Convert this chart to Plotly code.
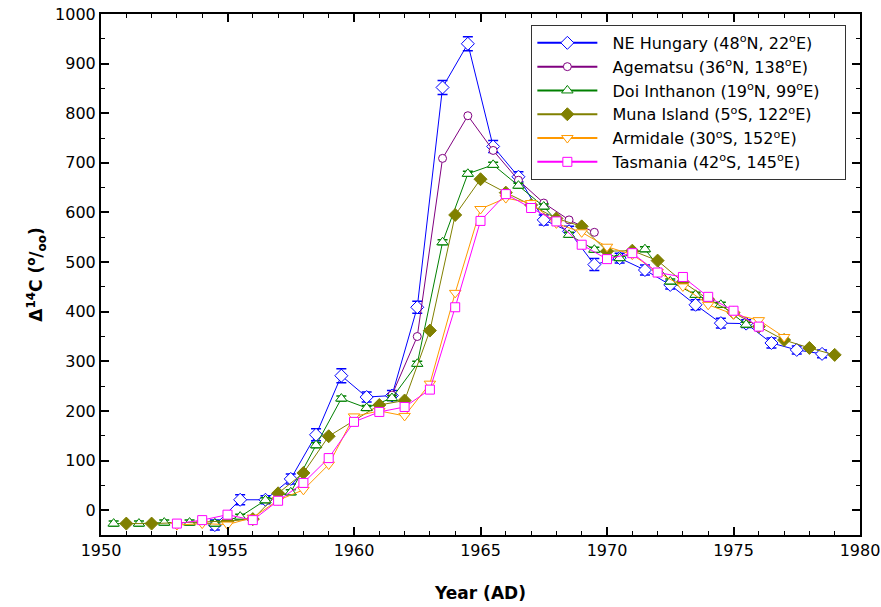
import plotly.graph_objects as go

# NE Hungary
hun_x = [1954.5, 1955.5, 1956.5, 1957.5, 1958.5, 1959.5, 1960.5, 1961.5, 1962.5, 1963.5, 1964.5,
         1965.5, 1966.5, 1967.5, 1968.5, 1969.5, 1970.5, 1971.5, 1972.5, 1973.5, 1974.5, 1975.5,
         1976.5, 1977.5, 1978.5]
hun_y = [-30, 21, 21, 63, 152, 271, 228, 231, 409, 852, 940,
         733, 672, 585, 562, 495, 508, 484, 454, 414, 377, 376,
         337, 323, 315]
hun_err = [10, 10, 8, 10, 12, 14, 10, 10, 12, 14, 14, 12, 10, 10, 10, 12, 10, 10, 8, 10, 10, 8, 10, 8, 8]

# Agematsu
age_x = [1961.5, 1962.5, 1963.5, 1964.5, 1965.5, 1966.5, 1967.5, 1968.5, 1969.5]
age_y = [232, 350, 709, 795, 725, 665, 619, 585, 560]

# Doi Inthanon
doi_x = [1950.5, 1951.5, 1952.5, 1953.5, 1954.5, 1955.5, 1956.5, 1957.5, 1958.5, 1959.5, 1960.5,
         1961.5, 1962.5, 1963.5, 1964.5, 1965.5, 1966.5, 1967.5, 1968.5, 1969.5, 1970.5, 1971.5,
         1972.5, 1973.5, 1974.5, 1975.5]
doi_y = [-27, -27, -25, -25, -27, -13, 20, 36, 131, 225, 206,
         226, 295, 540, 678, 696, 654, 612, 555, 525, 508, 526,
         461, 434, 414, 374]
doi_err = [5] * len(doi_x)

# Muna Island
mun_x = [1951, 1952, 1955, 1956, 1957, 1958, 1959, 1961, 1962, 1963, 1964, 1965, 1966, 1967,
         1968, 1969, 1970, 1971, 1972, 1973, 1974, 1975, 1976, 1977, 1978, 1979]
mun_y = [-27, -27, -22, -18, 34, 75, 149, 212, 221, 362, 595, 667, 640, 615,
         588, 572, 522, 523, 503, 460, 425, 398, 370, 343, 327, 313]

# Armidale
arm_x = [1953, 1954, 1955, 1956, 1957, 1958, 1959, 1960, 1961, 1962, 1963, 1964, 1965, 1966,
         1967, 1968, 1969, 1970, 1971, 1972, 1973, 1974, 1975, 1976, 1977]
arm_y = [-30, -27, -29, -15, 20, 41, 92, 189, 200, 190, 255, 438, 607, 629,
         619, 578, 560, 531, 515, 480, 451, 414, 395, 383, 349]

# Tasmania
tas_x = [1953, 1954, 1955, 1956, 1957, 1958, 1959, 1960, 1961, 1962, 1963, 1964, 1965, 1966,
         1967, 1968, 1969, 1970, 1971, 1972, 1973, 1974, 1975, 1976]
tas_y = [-27, -20, -9, -20, 19, 55, 105, 178, 198, 208, 243, 409, 583, 637,
         609, 582, 535, 506, 518, 479, 470, 430, 402, 370]

sup = lambda s: f"<sup>{s}</sup>"
pad = "\u00a0\u00a0"
tail = "\u00a0\u00a0\u00a0\u00a0"
names = [
    f"{pad}NE Hungary (48{sup('o')}N, 22{sup('o')}E){tail}",
    f"{pad}Agematsu (36{sup('o')}N, 138{sup('o')}E){tail}",
    f"{pad}Doi Inthanon (19{sup('o')}N, 99{sup('o')}E){tail}",
    f"{pad}Muna Island (5{sup('o')}S, 122{sup('o')}E){tail}",
    f"{pad}Armidale (30{sup('o')}S, 152{sup('o')}E){tail}",
    f"{pad}Tasmania (42{sup('o')}S, 145{sup('o')}E){tail}",
]

FONT = "DejaVu Sans"
fig = go.Figure()

def add(x, y, name, color, symbol, size, err=None, fill=False):
    marker = dict(symbol=symbol, size=size, color=color if fill else "white",
                  line=dict(color=color, width=1))
    tr = dict(
        x=x, y=y, name=name, mode="lines+markers", showlegend=False,
        line=dict(color=color, width=1), marker=marker,
    )
    if err is not None:
        tr["error_y"] = dict(type="data", array=err, visible=True, color=color,
                             thickness=1.5, width=5)
    fig.add_trace(go.Scatter(**tr))
    # legend-only entry with a thicker line, as in the reference legend
    fig.add_trace(go.Scatter(
        x=[None], y=[None], name=name, mode="lines+markers", showlegend=True,
        line=dict(color=color, width=2), marker=marker,
    ))

add(hun_x, hun_y, names[0], "#0000FF", "diamond", 10, hun_err)
add(age_x, age_y, names[1], "#800080", "circle", 8)
add(doi_x, doi_y, names[2], "#008000", "triangle-up", 10, doi_err)
add(mun_x, mun_y, names[3], "#808000", "diamond", 10, fill=True)
add(arm_x, arm_y, names[4], "#FF9900", "triangle-down", 10)
add(tas_x, tas_y, names[5], "#FF00FF", "square", 9)

axis_common = dict(
    showline=True, linecolor="black", linewidth=2, mirror="allticks",
    ticks="inside", ticklen=8, tickwidth=1.5, tickcolor="black",
    showgrid=False, zeroline=False, automargin=False,
    tickfont=dict(family=FONT, size=16, color="black"),
)

fig.update_xaxes(
    range=[1950, 1980], dtick=5, tick0=1950,
    minor=dict(dtick=1, ticks="inside", ticklen=4, tickcolor="black", tickwidth=1),
    title=dict(text="<b>Year (AD)</b>", font=dict(family=FONT, size=17, color="black"),
               standoff=28),
    **axis_common,
)
fig.update_yaxes(
    range=[-50, 1000], dtick=100, tick0=0,
    minor=dict(dtick=50, ticks="inside", ticklen=4, tickcolor="black", tickwidth=1),
    title=dict(text="<b>Δ<sup>14</sup>C (<sup>o</sup>/<sub>oo</sub>)</b>",
               font=dict(family=FONT, size=17, color="black"), standoff=8),
    **axis_common,
)

fig.update_layout(
    width=881, height=607,
    margin=dict(l=101, r=21, t=14, b=72),
    plot_bgcolor="white", paper_bgcolor="white",
    legend=dict(
        x=0.567, y=0.979, xanchor="left", yanchor="top",
        bgcolor="white", bordercolor="#333333", borderwidth=1,
        font=dict(family=FONT, size=16, color="black"),
        tracegroupgap=0, itemwidth=60,
    ),
    showlegend=True,
)

fig.write_html("out.html", config={"displayModeBar": False},
               post_script="document.body.style.margin='0';")
